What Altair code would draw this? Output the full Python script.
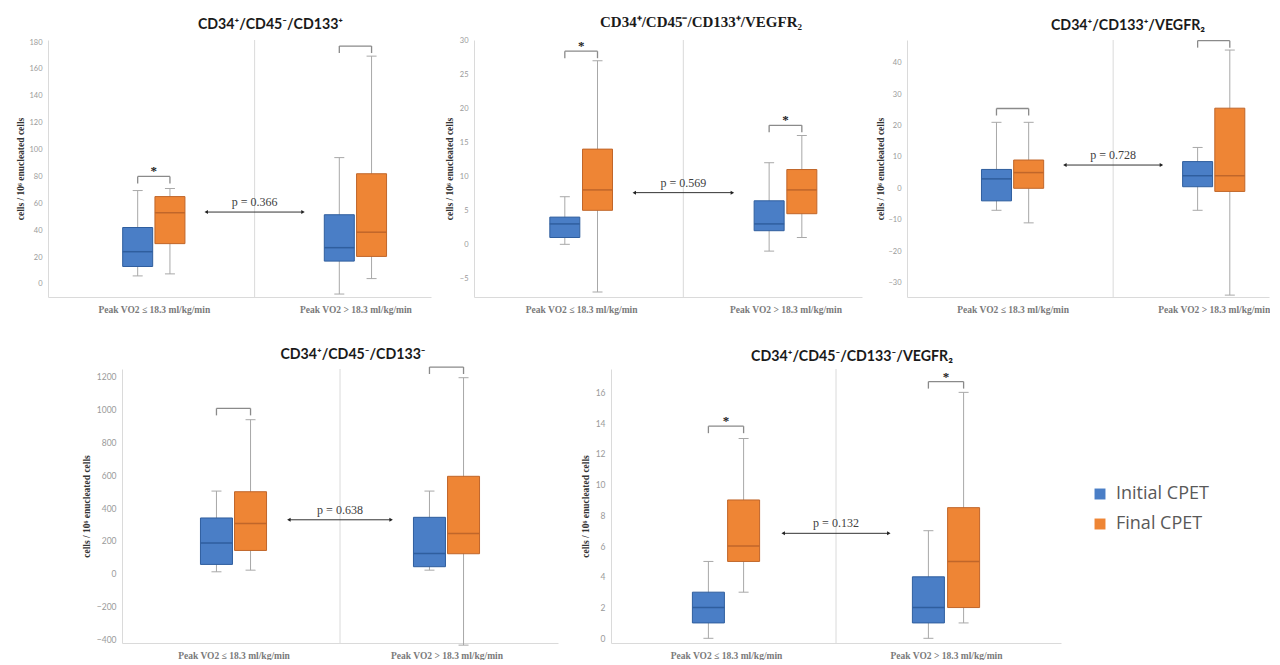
import altair as alt
import pandas as pd

groups = ["Peak VO2 ≤ 18.3 ml/kg/min", "Peak VO2 > 18.3 ml/kg/min"]
series = ["Initial CPET", "Final CPET"]

titles = [
    "CD34⁺/CD45⁻/CD133⁺",
    "CD34⁺/CD45⁻/CD133⁺/VEGFR₂",
    "CD34⁺/CD133⁺/VEGFR₂",
    "CD34⁺/CD45⁻/CD133⁻",
    "CD34⁺/CD45⁻/CD133⁻/VEGFR₂",
]
y_title = "cells / 10⁶ enucleated cells"

# order in each list: [group1-Initial, group1-Final, group2-Initial, group2-Final]
p1_min = [6, 7.5, -7.5, 4]
p1_q1 = [13, 30, 17, 20.5]
p1_med = [24, 53, 27, 38.5]
p1_q3 = [42, 65, 51.5, 82]
p1_max = [69.5, 71, 94, 169.5]
p1_bracket = [80, 177]
p1_star = ["*", ""]
p1_arrow = 53.5
p1_p = "p = 0.366"
p1_ticks = [0, 20, 40, 60, 80, 100, 120, 140, 160, 180]

p2_min = [0, -7, -1, 1]
p2_q1 = [1, 5, 2, 4.5]
p2_med = [3, 8, 3, 8]
p2_q3 = [4, 14, 6.4, 11]
p2_max = [7, 27, 12, 16]
p2_bracket = [28.4, 17.5]
p2_star = ["*", "*"]
p2_arrow = 7.6
p2_p = "p = 0.569"
p2_ticks = [-5, 0, 5, 10, 15, 20, 25, 30]

p3_min = [-7, -11, -7, -34]
p3_q1 = [-4, 0, 0.5, -1]
p3_med = [3, 5, 4, 4]
p3_q3 = [6, 9, 8.5, 25.5]
p3_max = [21, 21, 13, 44]
p3_bracket = [25.4, 47]
p3_star = ["", ""]
p3_arrow = 7.4
p3_p = "p = 0.728"
p3_ticks = [-30, -20, -10, 0, 10, 20, 30, 40]

p4_min = [12, 22, 22, -435]
p4_q1 = [57, 142, 43, 122]
p4_med = [187, 307, 124, 246]
p4_q3 = [340, 500, 344, 594]
p4_max = [504, 939, 504, 1195]
p4_bracket = [1008, 1260]
p4_star = ["", ""]
p4_arrow = 329
p4_p = "p = 0.638"
p4_ticks = [-400, -200, 0, 200, 400, 600, 800, 1000, 1200]

p5_min = [0, 3, 0, 1]
p5_q1 = [1, 5, 1, 2]
p5_med = [2, 6, 2, 5]
p5_q3 = [3, 9, 4, 8.5]
p5_max = [5, 13, 7, 16]
p5_bracket = [13.8, 16.7]
p5_star = ["*", "*"]
p5_arrow = 6.83
p5_p = "p = 0.132"
p5_ticks = [0, 2, 4, 6, 8, 10, 12, 14, 16]

FILL = ["#4A7EC6", "#EE8535"]
EDGE = ["#2F5E9E", "#C0662A"]
GRAY = "#A8A8A8"
AXIS_GRAY = "#DADADA"
OFF = 0.08      # half distance between the two boxes of a group (x units)
ARW = 0.24      # half length of p-value arrow (x units)

legend = alt.Legend(
    title=None, orient="none", legendX=1043, legendY=445,
    symbolType="square", symbolSize=120, symbolStrokeWidth=0,
    labelFont="Open Sans", labelFontSize=18, labelColor="#595959",
    rowPadding=12, labelOffset=7,
)


def panel(title, title_font, title_size, title_dx, title_off, mins, q1s, meds, q3s, maxs, br,
          stars, arrow_y, ptxt, ticks, ydom, width, xmax, height, bw, ytitle_x,
          tick_font_size):
    n = len(groups)
    rows = []
    for gi, g in enumerate(groups):
        for si, s in enumerate(series):
            i = gi * len(series) + si
            rows.append(dict(group=g, series=s,
                             xpos=gi + 0.5 + (2 * si - 1) * OFF,
                             lo=mins[i], q1=q1s[i], med=meds[i], q3=q3s[i], hi=maxs[i]))
    box = pd.DataFrame(rows)
    brk = pd.DataFrame(dict(
        x1=[gi + 0.5 - OFF for gi in range(n)],
        x2=[gi + 0.5 + OFF for gi in range(n)],
        xm=[gi + 0.5 for gi in range(n)],
        by=br, star=stars))
    arr = pd.DataFrame(dict(ax1=[n / 2 - ARW], ax2=[n / 2 + ARW], axm=[n / 2],
                            ay=[arrow_y], plabel=[ptxt]))

    xaxis = alt.Axis(values=[0.5, 1.5], ticks=False, grid=False,
                     domainColor=AXIS_GRAY, labelFont="Liberation Serif",
                     labelFontWeight="bold", labelFontSize=9.5, labelColor="#7A7A7A",
                     labelPadding=7, labelFlush=False, labelOverlap=False,
                     labelExpr=f"datum.value < 1 ? '{groups[0]}' : '{groups[1]}'")
    yaxis = alt.Axis(values=ticks, format="d", ticks=False, grid=False, domainColor=AXIS_GRAY,
                     labelFont="Lato", labelFontSize=tick_font_size, labelColor="#9A9A9A",
                     labelPadding=6, titleFont="Liberation Serif", titleFontWeight="bold",
                     titleFontSize=9.5, titleColor="#333333", titleX=ytitle_x,
                     titleBaseline="middle")
    xsc = alt.Scale(domain=[0, xmax], nice=False, zero=False)
    ysc = alt.Scale(domain=ydom, nice=False, zero=False)

    def X(f):
        return alt.X(f"{f}:Q", scale=xsc, axis=xaxis, title=None)

    def Y(f):
        return alt.Y(f"{f}:Q", scale=ysc, axis=yaxis, title=y_title)

    color = alt.Color("series:N", scale=alt.Scale(domain=series, range=FILL), legend=legend)
    stroke = alt.Stroke("series:N", scale=alt.Scale(domain=series, range=EDGE), legend=None)

    divider = alt.Chart(arr).mark_rule(color=AXIS_GRAY, strokeWidth=1).encode(x=X("axm"))
    whisk = alt.Chart(box).mark_rule(color=GRAY, strokeWidth=1).encode(x=X("xpos"), y=Y("lo"), y2="hi")
    cap_lo = alt.Chart(box).mark_tick(orient="horizontal", size=10, thickness=1, color=GRAY,
                                      opacity=1).encode(x=X("xpos"), y=Y("lo"))
    cap_hi = alt.Chart(box).mark_tick(orient="horizontal", size=10, thickness=1, color=GRAY,
                                      opacity=1).encode(x=X("xpos"), y=Y("hi"))
    boxes = alt.Chart(box).mark_bar(size=bw, strokeWidth=1, opacity=1).encode(
        x=X("xpos"), y=Y("q1"), y2="q3", color=color, stroke=stroke)
    med = alt.Chart(box).mark_rule(strokeWidth=1.5, xOffset=-bw / 2, x2Offset=bw / 2).encode(
        x=X("xpos"), x2="xpos", y=Y("med"), stroke=stroke)
    br_h = alt.Chart(brk).mark_rule(color="#8A8A8A", strokeWidth=1.3).encode(
        x=X("x1"), x2="x2", y=Y("by"))
    br_l = alt.Chart(brk).mark_tick(orient="vertical", size=7, thickness=1.3, yOffset=3.5,
                                    color="#8A8A8A", opacity=1).encode(x=X("x1"), y=Y("by"))
    br_r = alt.Chart(brk).mark_tick(orient="vertical", size=7, thickness=1.3, yOffset=3.5,
                                    color="#8A8A8A", opacity=1).encode(x=X("x2"), y=Y("by"))
    star = alt.Chart(brk).transform_filter("datum.star != ''").mark_text(
        dy=-5, fontSize=13, fontWeight="bold", font="Liberation Serif", color="#222222").encode(
        x=X("xm"), y=Y("by"), text="star:N")
    a_line = alt.Chart(arr).mark_rule(color="#333333", strokeWidth=1).encode(
        x=X("ax1"), x2="ax2", y=Y("ay"))
    a_l = alt.Chart(arr).mark_point(shape="triangle-left", filled=True, size=16,
                                    color="#222222", opacity=1).encode(x=X("ax1"), y=Y("ay"))
    a_r = alt.Chart(arr).mark_point(shape="triangle-right", filled=True, size=16,
                                    color="#222222", opacity=1).encode(x=X("ax2"), y=Y("ay"))
    p_lab = alt.Chart(arr).mark_text(dy=-10, font="Liberation Serif", fontSize=12,
                                     color="#404040").encode(x=X("axm"), y=Y("ay"), text="plabel:N")

    return alt.layer(divider, whisk, cap_lo, cap_hi, boxes, med, br_h, br_l, br_r, star,
                     a_line, a_l, a_r, p_lab).properties(
        width=width, height=height,
        title=alt.TitleParams(text=title, font=title_font, fontSize=title_size,
                              fontWeight="bold", color="#1A1A1A", dx=title_dx, offset=title_off,
                              anchor="middle", frame="group"))


c1 = panel(titles[0], "Lato", 14.2, 31, 6, p1_min, p1_q1, p1_med, p1_q3, p1_max, p1_bracket,
           p1_star, p1_arrow, p1_p, p1_ticks, [-9.7, 181.5], 383, 1.85, 257, 30, -28, 7.5)
c2 = panel(titles[1], "Liberation Serif", 15, 33, 6, p2_min, p2_q1, p2_med, p2_q3, p2_max,
           p2_bracket, p2_star, p2_arrow, p2_p, p2_ticks, [-7.75, 30.05], 388, 1.85, 257, 30,
           -25, 7.5)
c3 = panel(titles[2], "Lato", 14.2, 40, 6, p3_min, p3_q1, p3_med, p3_q3, p3_max, p3_bracket,
           p3_star, p3_arrow, p3_p, p3_ticks, [-34.6, 47.2], 362, 1.75, 257, 30, -27, 7.5)
c4 = panel(titles[3], "Lato", 14.2, 13, 4, p4_min, p4_q1, p4_med, p4_q3, p4_max, p4_bracket,
           p4_star, p4_arrow, p4_p, p4_ticks, [-422, 1248], 436, 2.0, 274, 32, -36, 8.5)
c5 = panel(titles[4], "Lato", 14.2, 16, 4, p5_min, p5_q1, p5_med, p5_q3, p5_max, p5_bracket,
           p5_star, p5_arrow, p5_p, p5_ticks, [-0.306, 17.52], 450, 2.0, 274, 32, -26, 8.5)

spacer = alt.Chart(pd.DataFrame({"v": [0]})).mark_point(opacity=0).encode(
    x=alt.value(0), y=alt.value(0)).properties(width=11, height=10)

row1 = alt.hconcat(c1, c2, c3, spacing=13)
row2 = alt.hconcat(spacer, c4, c5, spacing=22)

chart = alt.vconcat(row1, row2, spacing=34).properties(
    padding={"left": 7, "top": 7, "right": 0, "bottom": 0}
).configure_view(stroke=None)

chart.save("out.html", embed_options={"renderer": "svg", "actions": False})
